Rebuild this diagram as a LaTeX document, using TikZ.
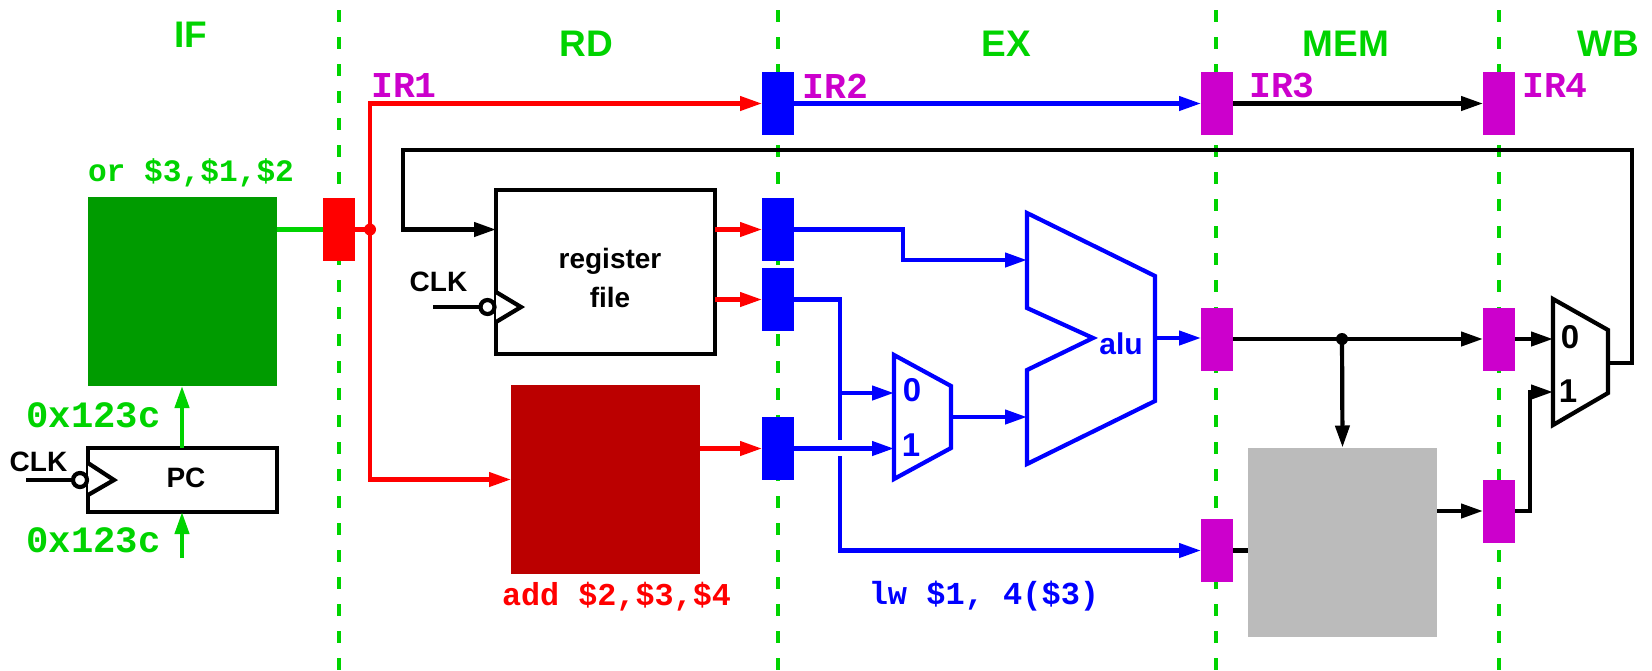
\documentclass[tikz,border=0pt]{standalone}
\usepackage{fontspec}
\setmainfont{Liberation Sans}
\newfontfamily\codefont{Liberation Mono}
\usetikzlibrary{arrows.meta}
\definecolor{stagegreen}{RGB}{0,211,0}
\definecolor{darkgreen}{RGB}{0,155,0}
\definecolor{darkred}{RGB}{187,0,0}
\definecolor{latchmag}{RGB}{204,0,204}
\definecolor{memgray}{RGB}{187,187,187}
\begin{document}
\begin{tikzpicture}[x=0.5pt, y=-0.5pt,
    wire/.style={line width=2.1pt, line join=miter},
    link/.style={wire, -{Triangle[length=11pt, width=7pt]}},
    latch/.style={minimum width=16pt, minimum height=31.5pt, inner sep=0pt, outer sep=0pt},
    block/.style={minimum width=94.5pt, minimum height=94.5pt, inner sep=0pt, outer sep=0pt},
    box/.style={draw, line width=2.1pt, inner sep=0pt, outer sep=0pt},
    dot/.style={circle, minimum size=6pt, inner sep=0pt, outer sep=0pt},
    bubble/.style={circle, draw, fill=white, line width=2.1pt, minimum size=7pt, inner sep=0pt, outer sep=0pt},
    stage/.style={text=stagegreen, font=\fontsize{18.5}{20}\selectfont\bfseries},
    sans/.style={font=\fontsize{14}{16}\selectfont\bfseries},
    digit/.style={font=\fontsize{16.5}{18}\selectfont\bfseries},
    code/.style={font=\fontsize{18.2}{20}\selectfont\codefont\bfseries}]
    \useasboundingbox (0,0) rectangle (1652,670);
    \foreach \x in {339,778,1216,1499}
    \draw[stagegreen, line width=1.7pt, dash pattern=on 6pt off 7.5pt] (\x,10) -- (\x,670);

    % Stage names
    \node[stage] (nameIF) at (191,35) {IF};
    \node[stage] (nameRD) at (586,44) {RD};
    \node[stage] (nameEX) at (1006,44) {EX};
    \node[stage] (nameMEM) at (1346,44) {MEM};
    \node[stage] (nameWB) at (1608,44) {WB};

    % Pipeline latches
    \node[latch, fill=red] (latchF) at (339,229.5) {};
    \foreach \n/\y in {latchRa/103.5, latchRb/229.5, latchRc/299.5, latchRd/448.5}
    \node[latch, fill=blue] (\n) at (778,\y) {};
    \foreach \n/\y in {latchXa/103.5, latchXb/339, latchXc/550.5}
    \node[latch, fill=latchmag] (\n) at (1217,\y) {};
    \foreach \n/\y in {latchMa/103.5, latchMb/339, latchMc/511}
    \node[latch, fill=latchmag] (\n) at (1499,\y) {};

    % Memories
    \node[block, fill=darkgreen] (imem) at (182.5,291.5) {};
    \node[block, fill=darkred] (dec) at (605.5,479.5) {};
    \node[block, fill=memgray] (dmem) at (1342.5,542) {};

    % PC
    \node[box, minimum width=94.5pt, minimum height=32pt, fill=white] (pc) at (182.5,480) {};
    \node[sans] (pcname) at (186,478) {PC};
    \draw[line width=2.1pt, fill=white] (88,463) -- (114,480) -- (88,495);
    \node[bubble] (pcbub) at (80,480) {};
    \coordinate (pcclk) at (26,480);
    \draw[wire] (pcclk) -- (pcbub);
    \node[sans] (pcclkname) at (38.5,462) {CLK};
    \coordinate (pcin) at (182,558);
    \draw[link, stagegreen] (pcin) -- (pc.south -| pcin);
    \draw[link, stagegreen] (pc.north -| pcin) -- (imem.south -| pcin);
    \node[code, text=stagegreen, font=\fontsize{18.6}{20}\selectfont\codefont\bfseries] (pcout) at (93.5,415) {0x123c};
    \node[code, text=stagegreen, font=\fontsize{18.6}{20}\selectfont\codefont\bfseries] (pcnext) at (93.5,540) {0x123c};
    \node[code, text=stagegreen, font=\fontsize{15.6}{18}\selectfont\codefont\bfseries] (instF) at (191,173) {or \$3,\$1,\$2};

    % Register file
    \node[box, minimum width=109.5pt, minimum height=82pt, fill=white] (regfile) at (605.5,272) {};
    \node[sans] (regA) at (610,261) {register};
    \node[sans] (regB) at (610,297) {file};
    \draw[line width=2.1pt, fill=white] (496,292) -- (521,307) -- (496,322);
    \node[bubble] (regbub) at (487.5,307) {};
    \coordinate (regclk) at (433,307);
    \draw[wire] (regclk) -- (regbub);
    \node[sans] (regclkname) at (438.5,282) {CLK};

    % Fetch to decode
    \draw[wire, stagegreen] (imem.east |- latchF.west) -- (latchF.west);
    \node[dot, fill=red] (fork) at (370,229.5) {};
    \draw[wire, red] (latchF.east) -- (fork.center);
    \draw[link, red] (fork.center) |- (latchRa.west);
    \draw[link, red] (fork.center) |- (dec.west);
    \draw[link, red] (regfile.east |- latchRb.west) -- (latchRb.west);
    \draw[link, red] (regfile.east |- latchRc.west) -- (latchRc.west);
    \draw[link, red] (dec.east |- latchRd.west) -- (latchRd.west);

    % Operand mux
    \coordinate (muxIn) at (894,393);
    \coordinate (muxOut) at (951,417);
    \draw[blue, line width=2.1pt] (894,355) -- (951,386) -- (951,448) -- (894,479) -- cycle;
    \node[digit, text=blue] (muxZero) at (912,390) {0};
    \node[digit, text=blue] (muxOne) at (911,445) {1};

    % ALU
    \coordinate (aluA) at (1027,260);
    \coordinate (aluB) at (1027,417);
    \coordinate (aluOut) at (1155,338);
    \draw[blue, line width=2.1pt] (1027,213) -- (1155,276) -- (1155,401) -- (1027,464) -- (1027,370) -- (1093,338) -- (1027,308) -- cycle;
    \node[sans, text=blue, font=\fontsize{15}{16}\selectfont\bfseries] (aluname) at (1121,344) {alu};

    % Execute stage wires
    \coordinate (bendA) at (903,260);
    \coordinate (gapTop) at (840,440);
    \coordinate (gapBot) at (840,456);
    \coordinate (tap) at (840,393);
    \draw[link, blue] (latchRa.east) -- (latchXa.west);
    \draw[link, blue] (latchRb.east) -| (bendA) -- (aluA);
    \draw[wire, blue] (latchRc.east) -| (gapTop);
    \draw[link, blue] (tap) -- (muxIn);
    \draw[link, blue] (latchRd.east) -- (latchRd.east -| muxIn);
    \draw[link, blue] (gapBot) |- (latchXc.west);
    \draw[link, blue] (muxOut) -- (aluB);
    \draw[link, blue] (aluOut) -- (aluOut -| latchXb.west);

    % Memory stage wires
    \node[dot, fill=black] (tapMem) at (1342,339) {};
    \draw[link] (latchXa.east) -- (latchMa.west);
    \draw[link] (latchXb.east) -- (latchMb.west);
    \draw[link] (tapMem.center) -- (dmem.north);
    \draw[wire] (latchXc.east) -- (dmem.west |- latchXc.east);
    \draw[link] (dmem.east |- latchMc.west) -- (latchMc.west);

    % Write back mux
    \coordinate (wbIn) at (1553,339);
    \coordinate (wbInB) at (1553,392);
    \coordinate (wbOut) at (1609,363);
    \coordinate (wbBend) at (1530,392);
    \coordinate (backA) at (1632,150);
    \coordinate (backB) at (403,150);
    \draw[line width=2.1pt] (1553,299) -- (1608,330) -- (1608,393) -- (1553,425) -- cycle;
    \node[digit] (wbZero) at (1570,337) {0};
    \node[digit] (wbOne) at (1568,391) {1};
    \draw[link] (latchMb.east) -- (wbIn);
    \draw[link] (latchMc.east) -| (wbBend) -- (wbInB);
    \draw[link] (wbOut) -| (backA) -- (backB) |- (regfile.west |- latchRb.west);

    % Labels
    \node[code, text=latchmag] (ira) at (404,86) {IR1};
    \node[code, text=latchmag] (irb) at (835.5,86) {IR2};
    \node[code, text=latchmag] (irc) at (1282,86) {IR3};
    \node[code, text=latchmag] (ird) at (1555,86) {IR4};
    \node[code, text=red, font=\fontsize{15.9}{20}\selectfont\codefont\bfseries] (instD) at (616.5,597) {add \$2,\$3,\$4};
    \node[code, text=blue, font=\fontsize{16}{18}\selectfont\codefont\bfseries] (instX) at (984,596) {lw \$1, 4(\$3)};
\end{tikzpicture}
\end{document}
